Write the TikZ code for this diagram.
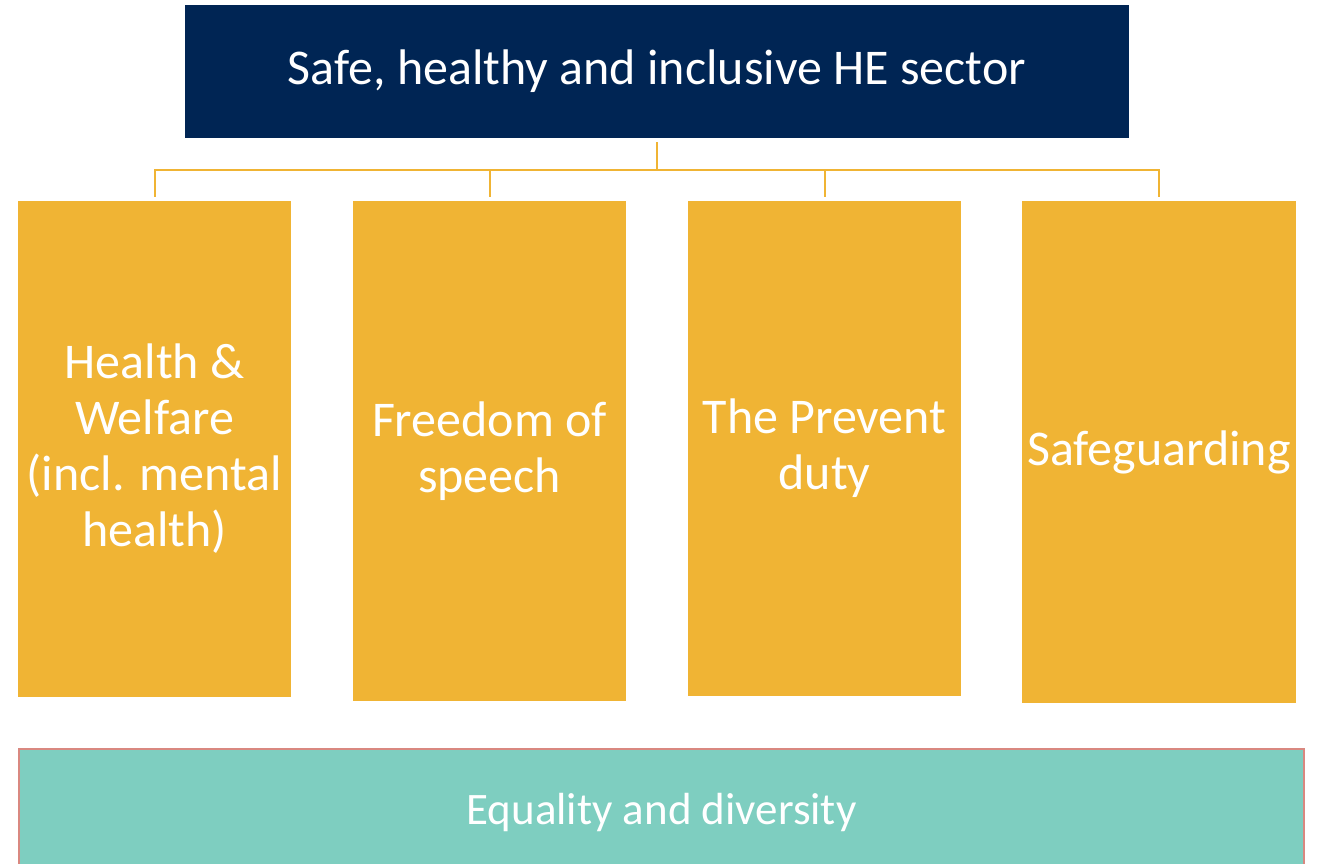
\documentclass[tikz,border=0pt]{standalone}
\usepackage{fontspec}
\setmainfont{Carlito}
\definecolor{navy}{HTML}{002554}
\definecolor{gold}{HTML}{F0B434}
\definecolor{teal}{HTML}{7ECEC0}
\definecolor{pinkb}{HTML}{D98880}
\tikzset{
  topbox/.style={fill=navy, draw=none, text=white, inner sep=0pt, minimum width=944pt, minimum height=133pt, font=\fontsize{50}{56}\selectfont},
  pillar/.style={fill=gold, draw=none, text=white, align=center, inner sep=0pt, minimum width=273pt, font=\fontsize{50}{56}\selectfont},
  basebox/.style={fill=teal, draw=pinkb, line width=2.5pt, text=white, inner sep=0pt, minimum width=1285pt, minimum height=126pt, font=\fontsize{45}{50}\selectfont},
  conn/.style={draw=gold, line width=2pt},
}
\begin{document}
\begin{tikzpicture}[x=1pt,y=-1pt]
\useasboundingbox (0,0) rectangle (1319,863);
\node[topbox] (top) at (657,71.5) {Safe, healthy and inclusive HE sector};
\node[pillar, minimum height=496pt] (p1) at (154.5,449) {Health \&\\Welfare\\(incl. mental\\health)};
\node[pillar, minimum height=500pt] (p2) at (489.5,451) {Freedom of\\speech};
\node[pillar, minimum height=495pt] (p3) at (824.5,448.5) {The Prevent\\duty};
\node[pillar, minimum height=502pt, minimum width=274pt] (p4) at (1159,452) {Safeguarding};
\node[basebox] (base) at (661.5,812) {Equality and diversity};
\coordinate (bus) at (657,170);
\draw[conn] ([yshift=-4pt]top.south) -- (bus);
\draw[conn] ([yshift=4pt]p1.north) |- (bus) -| ([yshift=4pt]p4.north);
\draw[conn] ([yshift=4pt]p2.north) -- (p2.north |- bus);
\draw[conn] ([yshift=4pt]p3.north) -- (p3.north |- bus);
\end{tikzpicture}
\end{document}
